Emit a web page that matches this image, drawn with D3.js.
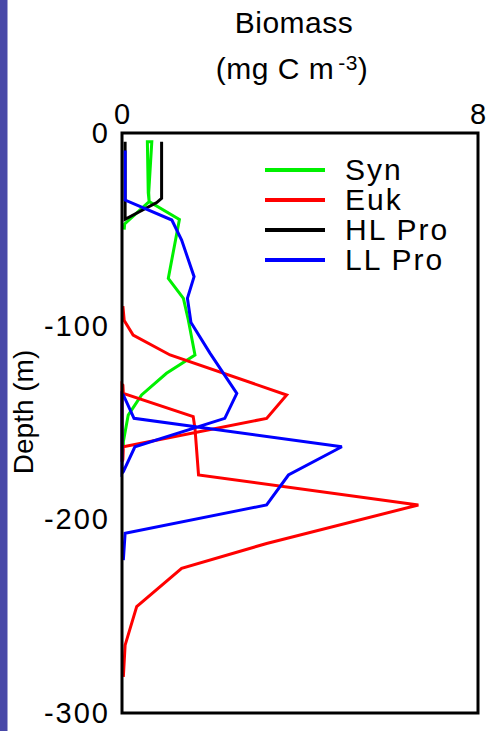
<!DOCTYPE html>
<html>
<head>
<meta charset="utf-8">
<script src="https://cdn.jsdelivr.net/npm/d3@7/dist/d3.min.js"></script>
<style>
  html, body { margin: 0; padding: 0; background: #fff; }
  svg { display: block; }
  text { font-family: "Liberation Sans", Arial, Helvetica, sans-serif; fill: #000; }
</style>
</head>
<body>
<div id="chart"></div>
<script>
// Phytoplankton biomass profiles: each series is traced in cast order,
// so depth may turn back on itself where two casts join.
const seriesNames = ["Syn", "Euk", "HL Pro", "LL Pro"];
const seriesColors = ["#00f000", "#ff0000", "#000000", "#0000ff"];

const synBiomass = [0.05, 0.06, 0.61, 0.59, 0.57, 0.67, 0.60, 0.61, 1.29, 1.04, 1.38, 1.49, 1.64, 1.00, 0.44, 0.14, 0.03, 0.03];
const synDepth   = [-50, -47, -35.5, -31, -4.5, -4.5, -31, -35.5, -44.7, -75.2, -85.5, -96.7, -114.8, -124.3, -135.5, -145.9, -159.7, -162];

const eukBiomass = [0.02, 0.05, 0.25, 1.08, 3.70, 3.25, 0.03, 0.02, 0, 0, 0.02, 0.03, 1.60, 1.64, 1.72, 6.66, 3.25, 1.34, 0.33, 0.07, 0.03];
const eukDepth   = [-89.5, -97, -104.5, -114.8, -135.5, -147.6, -162.3, -169, -170, -130, -130.4, -134.7, -146.7, -152.8, -176.9, -192.4, -212.3, -225.2, -245, -264.9, -281.3];

const hlBiomass = [0.07, 0.07, 0.78, 0.89, 0.89];
const hlDepth   = [-4.5, -44.6, -36, -33.8, -4.5];

const llBiomass = [0.07, 0.07, 1.12, 1.34, 1.62, 1.47, 1.55, 1.98, 2.58, 2.31, 0.29, 0.03, 0, 0, 0.03, 0.27, 4.94, 3.74, 3.25, 0.07, 0.03];
const llDepth   = [-9, -34.7, -45, -55.4, -74.3, -85.5, -98, -114, -134.7, -147.6, -162.3, -175.2, -176, -135, -135.5, -147.6, -162.3, -176.9, -192.4, -207, -220.9];

const xTicks = [0, 8];
const yTicks = [0, -100, -200, -300];

const profiles = [
  { name: seriesNames[0], color: seriesColors[0], x: synBiomass, y: synDepth },
  { name: seriesNames[1], color: seriesColors[1], x: eukBiomass, y: eukDepth },
  { name: seriesNames[2], color: seriesColors[2], x: hlBiomass, y: hlDepth },
  { name: seriesNames[3], color: seriesColors[3], x: llBiomass, y: llDepth }
];

const W = 489, H = 731;
const margin = { left: 122, right: 11, top: 133, bottom: 18 };

const svg = d3.select("#chart").append("svg")
  .attr("width", W).attr("height", H);

// slide-edge accent bar
svg.append("rect").attr("x", 0).attr("y", 0).attr("width", 7.5).attr("height", H)
  .attr("fill", "#4848a8");

const x = d3.scaleLinear().domain([0, 8]).range([margin.left, W - margin.right]);
const y = d3.scaleLinear().domain([0, -300]).range([margin.top, H - margin.bottom]);

const line = d3.line().x(d => x(d[0])).y(d => y(d[1]));

const plot = svg.append("g");
profiles.forEach(p => {
  const pts = p.x.map((v, i) => [v, p.y[i]]);
  plot.append("path")
    .datum(pts)
    .attr("d", line)
    .attr("fill", "none")
    .attr("stroke", p.color)
    .attr("stroke-width", 3)
    .attr("stroke-linejoin", "miter")
    .attr("stroke-miterlimit", 3);
});

// frame
svg.append("rect")
  .attr("x", x(0)).attr("y", y(0))
  .attr("width", x(8) - x(0)).attr("height", y(-300) - y(0))
  .attr("fill", "none").attr("stroke", "#000").attr("stroke-width", 3);

// axes: labels only, no tick marks; plain hyphen for negatives
const plain = d => String(d);

const xAxis = d3.axisTop(x).tickValues(xTicks).tickSize(0).tickPadding(9)
  .tickFormat(plain);
const gx = svg.append("g").attr("transform", `translate(0,${y(0)})`).call(xAxis);
gx.select(".domain").remove();
gx.selectAll("text").attr("font-size", 29).attr("font-family", null)
  .attr("letter-spacing", 1);

const yAxis = d3.axisLeft(y).tickValues(yTicks).tickSize(0).tickPadding(12)
  .tickFormat(plain);
const gy = svg.append("g").attr("transform", `translate(${x(0)},0)`).call(yAxis);
gy.select(".domain").remove();
gy.selectAll("text").attr("font-size", 29).attr("font-family", null)
  .attr("letter-spacing", 2);

// axis titles
svg.append("text").attr("x", 294).attr("y", 33).attr("text-anchor", "middle")
  .attr("font-size", 30).attr("letter-spacing", 0.5).text("Biomass");
const unit = svg.append("text").attr("x", 292).attr("y", 79).attr("text-anchor", "middle")
  .attr("font-size", 30).attr("letter-spacing", 0.5);
unit.append("tspan").text("(mg C m");
unit.append("tspan").attr("font-size", 21).attr("dx", 4).attr("dy", -9).text("-3");
unit.append("tspan").attr("dy", 9).text(")");

svg.append("text")
  .attr("transform", `translate(33,412) rotate(-90)`)
  .attr("text-anchor", "middle").attr("font-size", 28).text("Depth (m)");

// legend
const legend = svg.append("g");
const legendY = [170, 200, 230, 260];
profiles.forEach((p, i) => {
  legend.append("line")
    .attr("x1", 265).attr("x2", 325)
    .attr("y1", legendY[i]).attr("y2", legendY[i])
    .attr("stroke", p.color).attr("stroke-width", 4);
  legend.append("text")
    .attr("x", 345).attr("y", legendY[i] + 10)
    .attr("font-size", 30).attr("letter-spacing", 2)
    .text(p.name);
});
</script>
</body>
</html>
